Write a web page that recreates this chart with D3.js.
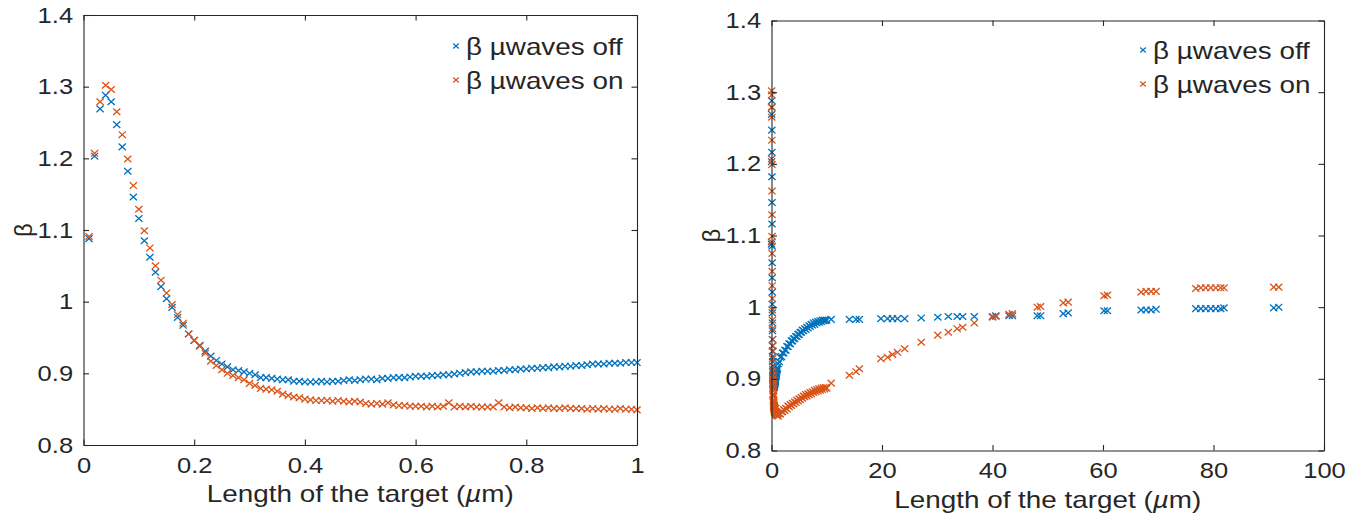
<!DOCTYPE html>
<html>
<head>
<meta charset="utf-8">
<script src="https://cdn.jsdelivr.net/npm/d3@7"></script>
<style>
  html, body { margin: 0; padding: 0; background: #fff; }
  svg { display: block; font-family: "Liberation Sans", Arial, Helvetica, sans-serif; }
</style>
</head>
<body>
<svg id="chart" width="1365" height="516"></svg>
<script>
// Target lengths (µm) for the short scan, 0–1 µm
const lengthShort = [
  0.01,0.02,0.03,0.04,0.05,0.06,0.07,0.08,0.09,0.10,
  0.11,0.12,0.13,0.14,0.15,0.16,0.17,0.18,0.19,0.20,
  0.21,0.22,0.23,0.24,0.25,0.26,0.27,0.28,0.29,0.30,
  0.31,0.32,0.33,0.34,0.35,0.36,0.37,0.38,0.39,0.40,
  0.41,0.42,0.43,0.44,0.45,0.46,0.47,0.48,0.49,0.50,
  0.51,0.52,0.53,0.54,0.55,0.56,0.57,0.58,0.59,0.60,
  0.61,0.62,0.63,0.64,0.65,0.66,0.67,0.68,0.69,0.70,
  0.71,0.72,0.73,0.74,0.75,0.76,0.77,0.78,0.79,0.80,
  0.81,0.82,0.83,0.84,0.85,0.86,0.87,0.88,0.89,0.90,
  0.91,0.92,0.93,0.94,0.95,0.96,0.97,0.98,0.99,1.00
];
// β without microwaves, short scan
const betaOffShort = [
  1.088,1.203,1.269,1.288,1.279,1.247,1.216,1.182,1.146,1.116,
  1.085,1.062,1.041,1.021,1.004,0.992,0.978,0.967,0.955,0.946,
  0.939,0.931,0.924,0.918,0.913,0.909,0.905,0.904,0.902,0.900,
  0.898,0.894,0.894,0.893,0.892,0.891,0.891,0.889,0.889,0.888,
  0.888,0.888,0.889,0.888,0.889,0.889,0.890,0.891,0.890,0.891,
  0.892,0.892,0.891,0.893,0.893,0.894,0.894,0.894,0.895,0.896,
  0.896,0.896,0.897,0.897,0.898,0.898,0.899,0.900,0.901,0.902,
  0.902,0.903,0.903,0.903,0.904,0.904,0.905,0.905,0.906,0.906,
  0.907,0.907,0.908,0.908,0.909,0.909,0.910,0.910,0.911,0.911,
  0.912,0.913,0.913,0.913,0.914,0.914,0.914,0.915,0.915,0.915
];
// β with microwaves, short scan
const betaOnShort = [
  1.091,1.207,1.279,1.302,1.296,1.265,1.233,1.199,1.162,1.129,
  1.099,1.075,1.050,1.030,1.012,0.996,0.982,0.970,0.955,0.946,
  0.938,0.928,0.917,0.911,0.905,0.900,0.897,0.894,0.891,0.886,
  0.883,0.879,0.878,0.877,0.875,0.871,0.869,0.867,0.866,0.864,
  0.863,0.862,0.862,0.862,0.861,0.862,0.861,0.860,0.861,0.860,
  0.858,0.857,0.858,0.857,0.859,0.856,0.855,0.855,0.854,0.854,
  0.854,0.853,0.854,0.853,0.854,0.859,0.853,0.854,0.853,0.854,
  0.853,0.853,0.853,0.853,0.859,0.853,0.852,0.853,0.852,0.852,
  0.851,0.852,0.851,0.852,0.851,0.851,0.852,0.851,0.851,0.851,
  0.850,0.851,0.850,0.851,0.850,0.850,0.851,0.850,0.850,0.849
];
// Target lengths (µm) for the long scan beyond 1 µm
const lengthLong = [
  1.2,1.4,1.6,1.8,2.0,2.2,2.4,2.6,2.8,3.0,
  3.2,3.4,3.6,3.8,4.0,4.2,4.4,4.6,4.8,5.0,
  5.2,5.4,5.6,5.8,6.0,6.2,6.4,6.6,6.8,7.0,
  7.2,7.4,7.6,7.8,8.0,8.2,8.4,8.6,8.8,9.0,
  9.2,9.4,9.6,9.8,10.0,
  10.8,14.1,15.3,15.9,19.8,21.0,21.9,22.8,24.1,27.1,
  30.1,32.0,33.6,34.6,36.7,40.0,40.6,43.0,43.6,48.1,
  48.7,52.8,53.7,60.2,60.8,66.9,67.8,68.7,69.6,76.8,
  77.7,78.6,79.5,80.4,81.3,81.9,90.9,91.8
];
const betaOffLong = [
  0.921,0.924,0.930,0.931,0.936,0.936,0.940,0.940,0.945,0.945,
  0.949,0.949,0.953,0.953,0.956,0.956,0.959,0.959,0.962,0.962,
  0.965,0.965,0.968,0.967,0.970,0.969,0.972,0.971,0.974,0.973,
  0.976,0.975,0.978,0.976,0.979,0.978,0.980,0.979,0.981,0.980,
  0.982,0.981,0.982,0.981,0.982,
  0.983,0.983,0.983,0.983,0.984,0.984,0.984,0.984,0.984,0.985,
  0.986,0.987,0.987,0.987,0.987,0.987,0.988,0.988,0.988,0.988,
  0.988,0.991,0.992,0.995,0.995,0.996,0.996,0.996,0.997,0.998,
  0.998,0.998,0.998,0.998,0.998,0.999,0.999,1.000
];
const betaOnLong = [
  0.848,0.851,0.851,0.854,0.854,0.857,0.856,0.859,0.858,0.862,
  0.861,0.864,0.863,0.866,0.865,0.868,0.867,0.870,0.869,0.872,
  0.871,0.874,0.873,0.876,0.875,0.878,0.876,0.879,0.878,0.881,
  0.879,0.882,0.881,0.884,0.882,0.885,0.883,0.886,0.884,0.887,
  0.885,0.888,0.886,0.888,0.887,
  0.894,0.905,0.910,0.914,0.928,0.930,0.934,0.937,0.942,0.951,
  0.961,0.965,0.970,0.972,0.978,0.986,0.987,0.990,0.991,1.000,
  1.001,1.006,1.007,1.016,1.017,1.021,1.022,1.022,1.022,1.026,
  1.027,1.027,1.027,1.027,1.027,1.027,1.028,1.028
];

const seriesNames = ["β µwaves off", "β µwaves on"];
const seriesColors = ["#0072BD", "#D95319"];
const yTicks = [0.8, 0.9, 1, 1.1, 1.2, 1.3, 1.4];
const xTicksShort = [0, 0.2, 0.4, 0.6, 0.8, 1];
const xTicksLong = [0, 20, 40, 60, 80, 100];

const svg = d3.select("#chart");
const ink = "#262626";
const tickFont = 22;
const labelFont = 24;
const widen = 1.16;   // horizontal glyph stretch used for all text

function toPoints(xs, ys) { return xs.map((x, i) => ({ x, y: ys[i] })); }

const fmtY = d => (d === 1 ? "1" : d3.format(".1f")(d));
const fmtShort = d => (d === 0 || d === 1 ? String(d) : d3.format(".1f")(d));
const fmtLong = d3.format("d");

function crossPath(w, h) {
  return `M${-w},${-h}L${w},${h}M${-w},${h}L${w},${-h}`;
}

function drawPanel(cfg) {
  const x = d3.scaleLinear().domain(cfg.xDomain).range([cfg.left, cfg.right]);
  const y = d3.scaleLinear().domain([0.8, 1.4]).range([cfg.bottom, cfg.top]);
  const g = svg.append("g");

  // markers
  cfg.series.forEach((s, k) => {
    g.append("g")
      .selectAll("path")
      .data(s)
      .join("path")
      .attr("transform", d => `translate(${x(d.x)},${y(d.y)})`)
      .attr("d", crossPath(3.6, 3.3))
      .attr("fill", "none")
      .attr("stroke", seriesColors[k])
      .attr("stroke-width", 1.3);
  });

  const tickLen = 5.5;
  const axes = [
    { ax: d3.axisBottom(x).tickValues(cfg.xTicks).tickFormat(cfg.xFmt), t: `translate(0,${cfg.bottom})`, pad: 12 },
    { ax: d3.axisTop(x).tickValues(cfg.xTicks).tickFormat(""), t: `translate(0,${cfg.top})`, pad: 10 },
    { ax: d3.axisLeft(y).tickValues(yTicks).tickFormat(fmtY), t: `translate(${cfg.left},0)`, pad: 9 },
    { ax: d3.axisRight(y).tickValues(yTicks).tickFormat(""), t: `translate(${cfg.right},0)`, pad: 10 }
  ];
  axes.forEach(a => {
    const ag = g.append("g")
      .attr("transform", a.t)
      .call(a.ax.tickSizeInner(-tickLen).tickSizeOuter(0).tickPadding(a.pad));
    ag.select(".domain").attr("stroke", ink).attr("stroke-width", 1.1);
    ag.selectAll(".tick line").attr("stroke", ink).attr("stroke-width", 1.1);
    ag.selectAll("text")
      .attr("font-family", "'Liberation Sans', Arial, Helvetica, sans-serif")
      .attr("font-size", tickFont)
      .attr("fill", ink)
      .attr("transform", `scale(${widen},1)`);
  });

  // x axis title
  const cx = (cfg.left + cfg.right) / 2;
  const title = g.append("text")
    .attr("transform", `translate(${cx},${cfg.bottom + 57}) scale(${widen},1)`)
    .attr("text-anchor", "middle")
    .attr("font-size", labelFont)
    .attr("fill", ink);
  title.append("tspan").text("Length of the target (");
  title.append("tspan").attr("font-style", "italic").text("µ");
  title.append("tspan").text("m)");

  // y axis title
  g.append("text")
    .attr("transform", `translate(${cfg.left - 52},${(cfg.top + cfg.bottom) / 2}) rotate(-90)`)
    .attr("text-anchor", "middle")
    .attr("font-size", labelFont)
    .attr("fill", ink)
    .text("β");

  // legend
  const lg = g.append("g").attr("transform", `translate(${cfg.legendX},${cfg.legendY})`);
  seriesNames.forEach((name, k) => {
    const row = lg.append("g").attr("transform", `translate(0,${k * 34})`);
    row.append("path")
      .attr("d", crossPath(2.8, 2.5))
      .attr("fill", "none")
      .attr("stroke", seriesColors[k])
      .attr("stroke-width", 1.2);
    row.append("text")
      .attr("transform", `translate(10,8.5) scale(${widen},1)`)
      .attr("font-size", labelFont)
      .attr("fill", ink)
      .text(name);
  });
}

drawPanel({
  left: 83.5, right: 637, top: 15, bottom: 445,
  xDomain: [0, 1], xTicks: xTicksShort, xFmt: fmtShort,
  series: [toPoints(lengthShort, betaOffShort), toPoints(lengthShort, betaOnShort)],
  legendX: 456, legendY: 46
});

drawPanel({
  left: 771.5, right: 1324, top: 20.5, bottom: 450.5,
  xDomain: [0, 100], xTicks: xTicksLong, xFmt: fmtLong,
  series: [
    toPoints(lengthShort.concat(lengthLong), betaOffShort.concat(betaOffLong)),
    toPoints(lengthShort.concat(lengthLong), betaOnShort.concat(betaOnLong))
  ],
  legendX: 1143, legendY: 50
});
</script>
</body>
</html>
